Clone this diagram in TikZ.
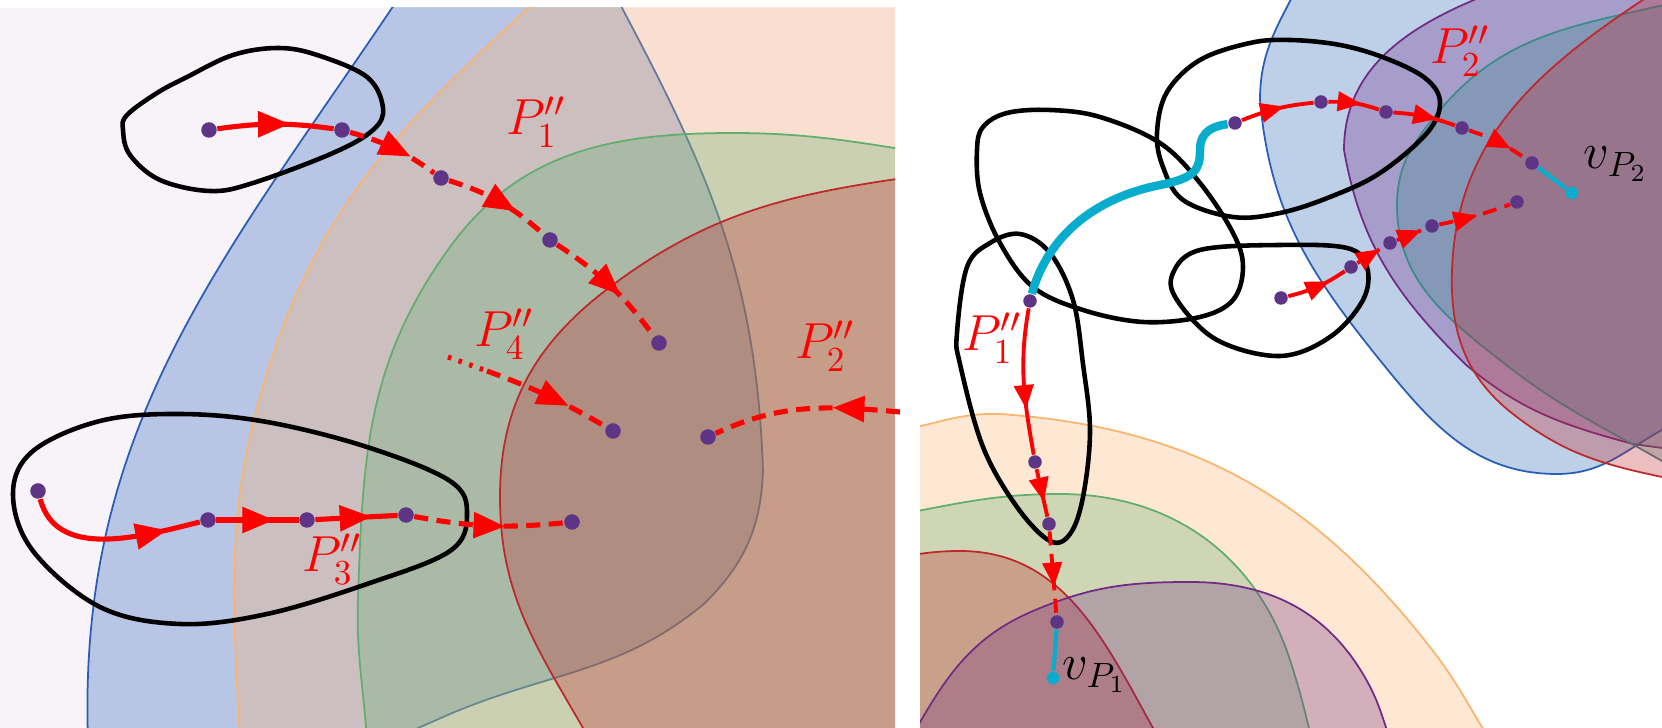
\documentclass[tikz,border=0pt]{standalone}
\usepackage{amsmath}
\usetikzlibrary{decorations.markings}

\definecolor{bgl}{RGB}{248,242,249}
\definecolor{cblue}{RGB}{40,95,180}
\definecolor{corange}{RGB}{251,180,110}
\definecolor{cgreen}{RGB}{97,174,110}
\definecolor{cred}{RGB}{190,40,42}
\definecolor{cpurple}{RGB}{114,43,132}
\definecolor{cteal}{RGB}{60,140,140}
\definecolor{dotc}{RGB}{94,52,134}
\definecolor{cyanp}{RGB}{8,172,204}

\begin{document}
\begin{tikzpicture}[x=0.01cm, y=0.01cm]
        \tikzset{
          vdot/.style={circle, fill=dotc, inner sep=0pt, minimum size=0.155cm},
          sdot/.style={vdot, minimum size=0.135cm},
          enddot/.style={circle, fill=cyanp, inner sep=0pt, minimum size=0.125cm},
          blackloop/.style={draw=black, line width=1.3pt},
          zone/.style={fill=#1, draw=#1, fill opacity=.3, line width=.5pt},
          rp/.style={red, line width=1.45pt},
          rdash/.style={rp, dash pattern=on 4pt off 2.4pt},
          rdot/.style={rp, dash pattern=on 1pt off 2.2pt},
          arr/.style={postaction={decorate, decoration={markings, mark=at position #1 with {\fill[red] (4.6pt,0pt) -- (-4.3pt,3.8pt) -- (-4.3pt,-3.8pt) -- cycle;}}}},
          arr/.default=.5,
          sarr/.style={postaction={decorate, decoration={markings, mark=at position #1 with {\fill[red] (3.5pt,0pt) -- (-3.2pt,2.9pt) -- (-3.2pt,-2.9pt) -- cycle;}}}},
          sarr/.default=.5,
          cy/.style={cyanp, line width=1.2pt},
          lbl/.style={red, font=\fontsize{14}{16}\selectfont, inner sep=0pt}
        }
        \useasboundingbox (0,0) rectangle (1662,-728);
        %% --- left panel: regions ---
        \begin{scope}
          \clip (0,-8) rectangle (895,-728);
          \fill[bgl] (0,-8) rectangle (895,-728);
          \draw[zone=cblue] (88,-740) to[out=92, in=236] (392,-8) -- (410,14) -- (610,14) -- (622,-8)
            to[out=-62, in=92] (763,-470) to[out=-92, in=45] (705,-603) to[out=-140, in=23] (450,-714)
            -- (300,-780) -- (88,-790) -- cycle;
          \draw[zone=corange] (1000,40) -- (562,24) -- (540,3) to[out=223, in=72] (270,-364)
            to[out=252, in=93] (240,-740) -- (1000,-740) -- cycle;
          \draw[zone=cgreen] (960,-158) to[out=172, in=0] (733,-133) to[out=180, in=54] (450,-247)
            to[out=234, in=88] (358,-597) to[out=268, in=94] (367,-740) -- (1000,-740) -- (1000,-158) -- cycle;
          \draw[zone=cred] (960,-170) to[out=188, in=37] (610,-287) to[out=217, in=90] (500,-497)
            to[out=270, in=120] (583,-728) -- (619,-790) -- (1000,-790) -- (1000,-170) -- cycle;
        \end{scope}
        %% --- right panel: regions ---
        \begin{scope}
          \clip (920,0) rectangle (1662,-728);
          \draw[zone=cblue] (1300,18) to[out=243, in=90] (1260,-100) to[out=275, in=129] (1383,-364)
            to[out=-51, in=180] (1557,-474) to[out=0, in=210] (1660,-431) -- (1712,-401) -- (1720,40) -- (1311,40) -- cycle;
          \draw[zone=cpurple] (1520,18) to[out=200, in=90] (1344,-150) to[out=280, in=135] (1465,-364)
            to[out=-40, in=165] (1633,-444) -- (1720,-456) -- (1720,40) -- (1539,25) -- cycle;
          \draw[zone=cteal] (1700,4) to[out=195, in=50] (1440,-110) to[out=230, in=90] (1397,-205)
            to[out=270, in=142] (1505,-364) to[out=-38, in=150] (1662,-461) -- (1730,-495) -- (1730,9) -- cycle;
          \draw[zone=cred] (1670,18) to[out=213, in=88] (1452,-270) to[out=268, in=142] (1513,-414)
            to[out=-38, in=168] (1662,-477) -- (1720,-485) -- (1720,34) -- (1695,34) -- cycle;
          \draw[zone=corange] (880,-433) to[out=5, in=178] (1000,-414) to[out=-4, in=128] (1430,-647)
            to[out=-52, in=122] (1490,-740) -- (1500,-800) -- (880,-800) -- cycle;
          \draw[zone=cgreen] (880,-518) to[out=10, in=180] (1060,-494) to[out=0, in=108] (1290,-660)
            to[out=-72, in=104] (1312,-740) -- (1315,-800) -- (880,-800) -- cycle;
          \draw[zone=cred] (880,-560) to[out=8, in=180] (960,-551) to[out=0, in=119] (1153,-728)
            -- (1193,-800) -- (880,-800) -- cycle;
          \draw[zone=cpurple] (900,-757) to[out=60, in=203] (1033,-611) to[out=23, in=180] (1190,-582)
            to[out=0, in=119] (1367,-681) to[out=-61, in=110] (1392,-745) -- (1400,-800) -- (880,-800) -- cycle;
        \end{scope}
        %% --- black loops ---
        \draw[blackloop] plot[smooth cycle, tension=.6] coordinates {(123,-130) (130,-155) (160,-180) (210,-191) (253,-183) (333,-153) (373,-130) (383,-108) (367,-77) (317,-55) (278,-48) (233,-55) (187,-77) (157,-93) (127,-115)};
        \draw[blackloop] plot[smooth cycle, tension=.6] coordinates {(13,-494) (33,-551) (100,-607) (180,-624) (267,-614) (367,-584) (450,-551) (467,-514) (450,-481) (367,-447) (267,-422) (180,-414) (100,-421) (33,-451)};
        \draw[blackloop] plot[smooth cycle, tension=.6] coordinates {(977,-150) (983,-127) (1007,-113) (1050,-110) (1100,-117) (1160,-143) (1200,-183) (1233,-233) (1243,-267) (1233,-300) (1200,-317) (1143,-322) (1083,-310) (1033,-287) (1000,-243) (980,-193)};
        \draw[blackloop] plot[smooth cycle, tension=.6] coordinates {(1157,-133) (1167,-92) (1200,-60) (1250,-43) (1290,-40) (1340,-45) (1385,-58) (1425,-78) (1440,-102) (1427,-133) (1380,-173) (1330,-197) (1280,-213) (1233,-217) (1183,-200) (1163,-167)};
        \draw[blackloop] plot[smooth cycle, tension=.6] coordinates {(1173,-273) (1200,-250) (1280,-245) (1347,-248) (1367,-267) (1363,-300) (1330,-337) (1280,-356) (1217,-340) (1177,-300)};
        \draw[blackloop] plot[smooth cycle, tension=.6] coordinates {(1020,-234) (1050,-253) (1073,-300) (1083,-364) (1090,-431) (1083,-497) (1070,-534) (1050,-541) (1017,-507) (983,-447) (960,-364) (957,-333) (967,-267) (990,-243)};
        %% --- left panel: paths ---
        \node[vdot] (a1) at (209,-130) {};
        \node[vdot] (a2) at (342,-130) {};
        \node[vdot] (a3) at (441,-178) {};
        \node[vdot] (a4) at (550,-240) {};
        \node[vdot] (a5) at (659,-343) {};
        \node[vdot] (b1) at (38,-491) {};
        \node[vdot] (b2) at (208,-520) {};
        \node[vdot] (b3) at (307,-520) {};
        \node[vdot] (b4) at (406,-515) {};
        \node[vdot] (b5) at (572,-522) {};
        \node[vdot] (c1) at (613,-431) {};
        \node[vdot] (d1) at (708,-437) {};
        \coordinate (c0)  at (448,-357);
        \coordinate (c0m) at (487,-371);
        \coordinate (d0)  at (900,-412);
        \draw[rp, arr=.48] (a1) to[bend left=8] (a2);
        \draw[rdash, arr=.52] (a2) to[bend left=10] (a3);
        \draw[rdash, arr=.52] (a3) to[bend left=12] (a4);
        \draw[rdash, arr=.48] (a4) to[bend left=10] (a5);
        \draw[rp, arr=.72] (b1) to[out=-75, in=194] (b2);
        \draw[rp, arr=.5] (b2) -- (b3);
        \draw[rp, arr=.48] (b3) -- (b4);
        \draw[rdash, arr=.5] (b4) to[bend right=8] (b5);
        \draw[rdot] (c0) -- (c0m);
        \draw[rdash, arr=.55] (c0m) to[bend left=5] (c1);
        \draw[rdash, arr=.27] (d0) to[out=175, in=25] (d1);
        \node[lbl] (lp1) at (536,-122) {$P_1''$};
        \node[lbl] (lp4) at (504,-334) {$P_4''$};
        \node[lbl] (lp3) at (332,-559) {$P_3''$};
        \node[lbl] (lp2) at (825,-346) {$P_2''$};
        %% --- right panel: paths ---
        \begin{scope}[rp/.style={red, line width=1.1pt}]
          \node[sdot] (e1) at (1030,-301) {};
          \node[sdot] (e2) at (1035,-462) {};
          \node[sdot] (e3) at (1049,-524) {};
          \node[sdot] (e4) at (1057,-622) {};
          \node[enddot] (e5) at (1053,-678) {};
          \node[sdot] (f1) at (1235,-123) {};
          \node[sdot] (f2) at (1321,-102) {};
          \node[sdot] (f3) at (1386,-112) {};
          \node[sdot] (f4) at (1462,-128) {};
          \node[sdot] (f5) at (1532,-163) {};
          \node[enddot] (f6) at (1572,-193) {};
          \node[sdot] (g1) at (1281,-298) {};
          \node[sdot] (g2) at (1351,-267) {};
          \node[sdot] (g3) at (1390,-243) {};
          \node[sdot] (g4) at (1432,-226) {};
          \node[sdot] (g5) at (1517,-202) {};
          \draw[cyanp, line width=2.4pt] (e1) .. controls (1045,-245) and (1085,-200) .. (1160,-185) .. controls (1195,-178) and (1200,-170) .. (1200,-150) .. controls (1200,-130) and (1215,-126) .. (f1);
          \draw[rp, sarr=.6] (e1) to[out=-100, in=100] (e2);
          \draw[rp, sarr=.42] (e2) -- (e3);
          \draw[rdash, sarr=.51] (e3) -- (e4);
          \draw[cy] (e4) -- (e5);
          \draw[rp, sarr=.43] (f1) to[bend left=8] (f2);
          \draw[rp, sarr=.4] (f2) to[bend left=10] (f3);
          \draw[rp, sarr=.5] (f3) to[bend left=8] (f4);
          \draw[rdash, sarr=.52] (f4) to[bend left=8] (f5);
          \draw[cy] (f5) -- (f6);
          \draw[rp, sarr=.5] (g1) to[bend right=10] (g2);
          \draw[rdot, sarr=.45] (g2) -- (g3);
          \draw[rdot, sarr=.45] (g3) -- (g4);
          \draw[rdash, sarr=.36] (g4) to[bend right=4] (g5);
        \end{scope}
        \node[lbl] (rp1) at (992,-338) {$P_1''$};
        \node[lbl] (rp2) at (1460,-51) {$P_2''$};
        \node[lbl, black] (v1) at (1095,-675) {$v_{P_1}$};
        \node[lbl, black] (v2) at (1616,-164) {$v_{P_2}$};
    \end{tikzpicture}
\end{document}
